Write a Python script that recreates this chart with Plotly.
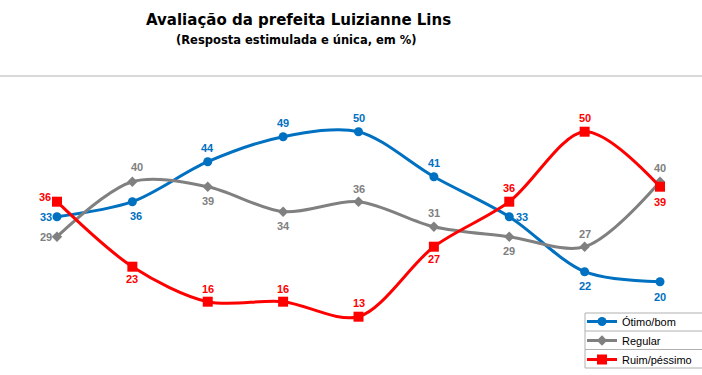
import plotly.graph_objects as go

periods = list(range(9))
otimo_bom = [33, 36, 44, 49, 50, 41, 33, 22, 20]
regular = [29, 40, 39, 34, 36, 31, 29, 27, 40]
ruim_pessimo = [36, 23, 16, 16, 13, 27, 36, 50, 39]
series_names = ["Ótimo/bom", "Regular", "Ruim/péssimo"]

# label placement per point: (xshift, yshift)
blue_pos = [(-11, 0), (4, -14), (0, 14), (0, 14), (0, 14), (0, 14), (13, 0), (0, -14), (0, -15)]
gray_pos = [(-11, 0), (5, 15), (0, -14), (0, -14), (0, 13), (0, 14), (0, -14), (0, 13), (0, 14)]
red_pos = [(-12, 5), (0, -12), (0, 13), (0, 13), (0, 14), (0, -12), (0, 14), (0, 14), (0, -15)]

colors = ["#0070C0", "#808080", "#FF0000"]
symbols = ["circle", "diamond", "square"]
msizes = [9, 8, 10]

fig = go.Figure()
data = [otimo_bom, regular, ruim_pessimo]
positions = [blue_pos, gray_pos, red_pos]
for name, vals, c, s, ms in zip(series_names, data, colors, symbols, msizes):
    fig.add_trace(go.Scatter(
        x=periods, y=vals, name=name, mode="lines+markers",
        line=dict(color=c, width=3, shape="spline", smoothing=0.9),
        marker=dict(color=c, symbol=s, size=ms),
    ))

annotations = []
for vals, pos, c in zip(data, positions, colors):
    for xi, v, (dx, dy) in zip(periods, vals, pos):
        annotations.append(dict(
            x=xi, y=v, xref="x", yref="y", text=f"<b>{v}</b>", showarrow=False,
            xshift=dx, yshift=dy, font=dict(family="Arial", size=11, color=c),
        ))

T, H = 82, 290  # plot top (px) and height (px)


def py(p):
    return (T + H - p) / H


annotations.append(dict(
    x=298 / 702, y=py(20), xref="paper", yref="paper",
    xanchor="center", yanchor="middle",
    text="<b>Avaliação da prefeita Luizianne Lins</b>", showarrow=False,
    font=dict(family="DejaVu Sans", size=15, color="#000000"),
))
annotations.append(dict(
    x=296 / 702, y=py(40), xref="paper", yref="paper",
    xanchor="center", yanchor="middle",
    text="<b>(Resposta estimulada e única, em %)</b>", showarrow=False,
    font=dict(family="DejaVu Sans", size=11.5, color="#000000"),
))

shapes = [
    dict(type="line", xref="paper", yref="paper", x0=0, x1=1,
         y0=py(76), y1=py(76), line=dict(color="#D9D9D9", width=2)),
]
# legend box and row separators
lx0, lx1 = 585 / 702, 1.0
for yp in [313, 331, 349.5, 368]:
    shapes.append(dict(type="line", xref="paper", yref="paper", x0=lx0, x1=lx1,
                       y0=py(yp), y1=py(yp), line=dict(color="#B0B0B0", width=1)))
shapes.append(dict(type="line", xref="paper", yref="paper", x0=lx0, x1=lx0,
                   y0=py(313), y1=py(368), line=dict(color="#B0B0B0", width=1)))

PX_PER_UNIT = 5.0
Y50 = 131.7
fig.update_layout(
    width=702, height=375,
    margin=dict(l=0, r=0, t=T, b=375 - T - H, autoexpand=False),
    paper_bgcolor="white", plot_bgcolor="white",
    xaxis=dict(range=[-0.756, 8.557], visible=False),
    yaxis=dict(range=[50 - (T + H - Y50) / PX_PER_UNIT, 50 + (Y50 - T) / PX_PER_UNIT],
               visible=False),
    showlegend=True,
    legend=dict(x=582 / 702, y=py(307), xanchor="left", yanchor="top",
                font=dict(family="Arial", size=11, color="#000000"),
                bgcolor="rgba(0,0,0,0)", tracegroupgap=0, itemwidth=30,
                borderwidth=0),
    annotations=annotations,
    shapes=shapes,
)

fig.write_html("out.html", config={"displayModeBar": False},
               post_script="document.body.style.margin='0';")
